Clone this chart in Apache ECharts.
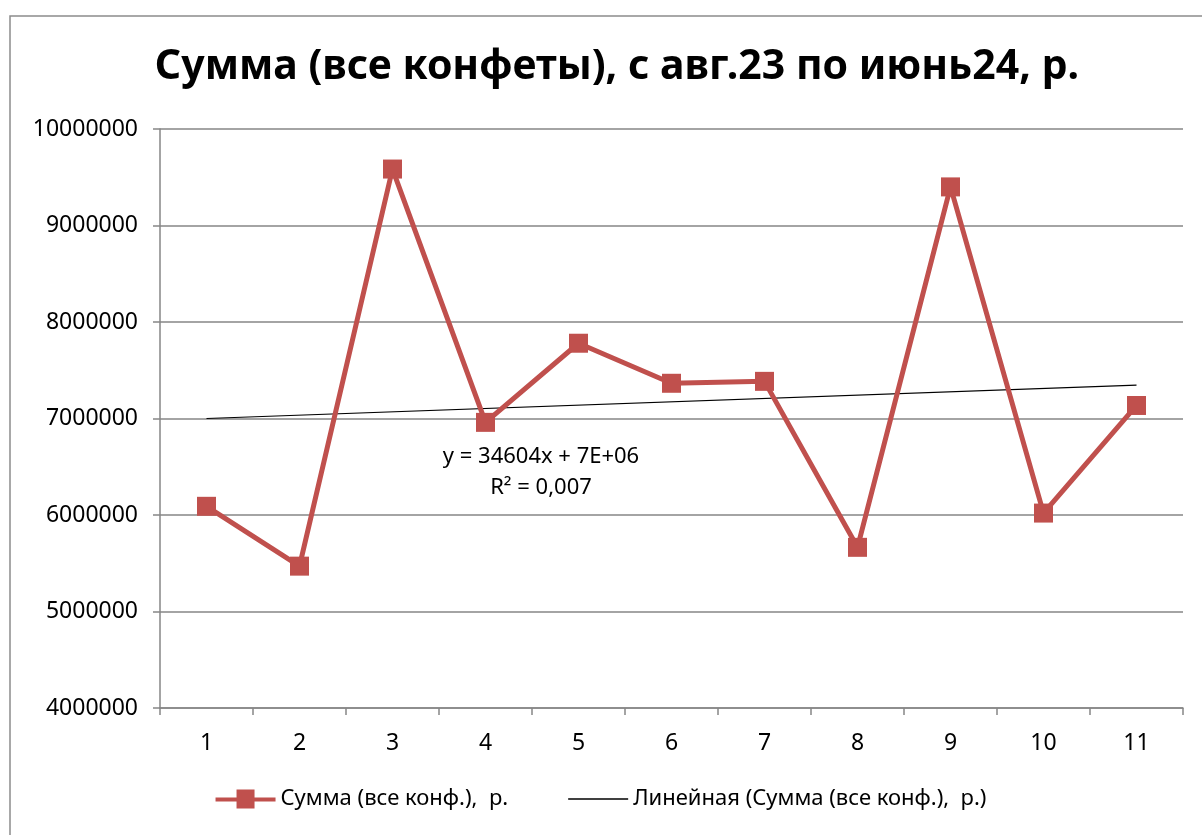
<!DOCTYPE html>
<html>
<head>
<meta charset="utf-8">
<script src="https://cdn.jsdelivr.net/npm/echarts@6/dist/echarts.min.js"></script>
<style>
	html, body { margin: 0; padding: 0; background: #ffffff; }
	#chart { width: 1202px; height: 835px; }
</style>
</head>
<body>
<div id="chart"></div>
<script>
// Données
const categories = ["1", "2", "3", "4", "5", "6", "7", "8", "9", "10", "11"];
const sommeValues = [6090000, 5470000, 9585000, 6960000, 7780000, 7365000, 7385000, 5665000, 9400000, 6020000, 7135000];
const trendEnds = [7000000, 7345000]; // tendance linéaire aux points 1 et 11
const yTicks = { min: 4000000, max: 10000000, interval: 1000000 };

const serieName = "Сумма (все конф.),  р.";
const trendName = "Линейная (Сумма (все конф.),  р.)";
const font = "Noto Sans";

const chart = echarts.init(document.querySelector("#chart"));
chart.setOption({
	animation: false,
	backgroundColor: "#ffffff",
	textStyle: { fontFamily: font },
	title: {
		text: "Сумма (все конфеты), с авг.23 по июнь24, р.",
		left: 612,
		top: 42,
		textAlign: "center",
		textStyle: { fontSize: 41, fontWeight: "bold", color: "#000000", fontFamily: font },
	},
	grid: { left: 160, right: 19, top: 129, bottom: 127 },
	legend: {
		bottom: 20,
		left: "center",
		itemWidth: 60,
		itemHeight: 19,
		itemGap: 60,
		symbolKeepAspect: true,
		textStyle: { fontSize: 22, color: "#000000", fontFamily: font },
		data: [
			{ name: serieName, icon: "path://M0,8 L21,8 L21,0 L39,0 L39,8 L60,8 L60,12 L39,12 L39,19 L21,19 L21,12 L0,12 Z" },
			{ name: trendName, icon: "path://M0,0 L60,0 L60,1.5 L0,1.5 Z" },
		],
	},
	xAxis: {
		type: "category",
		data: categories,
		boundaryGap: true,
		axisLine: { lineStyle: { color: "#868686", width: 1.5 } },
		axisTick: { show: true, length: 7, lineStyle: { color: "#868686", width: 1.5 } },
		axisLabel: { fontSize: 23, color: "#000000", margin: 24 },
	},
	yAxis: {
		type: "value",
		min: yTicks.min,
		max: yTicks.max,
		interval: yTicks.interval,
		axisLine: { show: true, lineStyle: { color: "#868686", width: 1.5 } },
		axisTick: { show: true, length: 7, lineStyle: { color: "#868686", width: 1.5 } },
		splitLine: { lineStyle: { color: "#868686", width: 1.5 } },
		axisLabel: { fontSize: 23, color: "#000000", margin: 22, formatter: (v) => String(v) },
	},
	graphic: [
		{
			type: "rect",
			shape: { x: 10, y: 16, width: 1300, height: 900 },
			style: { fill: "none", stroke: "#8c8c8c", lineWidth: 1.5 },
			silent: true,
		},
		{
			type: "text",
			x: 541,
			y: 457,
			style: { text: "y = 34604x + 7E+06", fontSize: 22, fill: "#000000", fontFamily: font, align: "center", verticalAlign: "middle" },
		},
		{
			type: "text",
			x: 541,
			y: 488,
			style: { text: "R² = 0,007", fontSize: 22, fill: "#000000", fontFamily: font, align: "center", verticalAlign: "middle" },
		},
	],
	series: [
		{
			name: trendName,
			type: "line",
			data: [
				[categories[0], trendEnds[0]],
				[categories[categories.length - 1], trendEnds[1]],
			],
			symbol: "none",
			lineStyle: { color: "#000000", width: 1.2 },
			itemStyle: { color: "#000000" },
			z: 1,
		},
		{
			name: serieName,
			type: "line",
			data: sommeValues,
			symbol: "rect",
			symbolSize: 19,
			lineStyle: { color: "#C0504D", width: 5 },
			itemStyle: { color: "#C0504D" },
			z: 3,
		},
	],
});
</script>
</body>
</html>
